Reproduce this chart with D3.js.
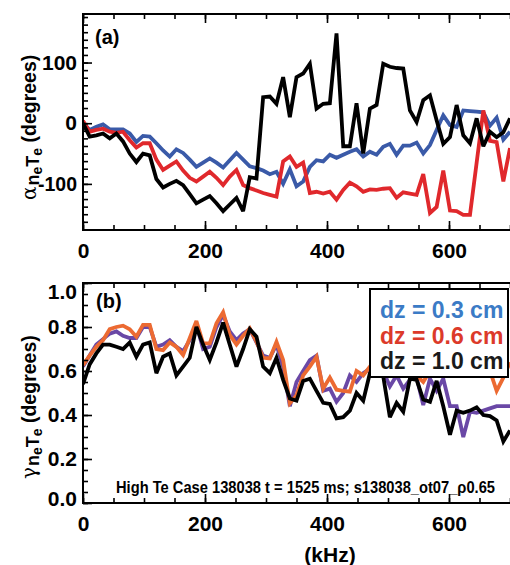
<!DOCTYPE html>
<html>
<head>
<meta charset="utf-8">
<script src="https://cdn.jsdelivr.net/npm/d3@7"></script>
<style>
body { margin: 0; background: #fff; }
svg { display: block; font-family: "Liberation Sans", Arial, sans-serif; }
</style>
</head>
<body>
<div id="chart"></div>
<script>
// frequency bins (kHz)
var freq = [0, 10.9, 21.9, 32.8, 43.8, 54.7, 65.6, 76.6, 87.5, 98.4,
	109.4, 120.3, 131.3, 142.2, 153.1, 164.1, 175, 185.9, 196.9, 207.8,
	218.8, 229.7, 240.6, 251.6, 262.5, 273.4, 284.4, 295.3, 306.3, 317.2,
	328.1, 339.1, 350, 360.9, 371.9, 382.8, 393.8, 404.7, 415.6, 426.6,
	437.5, 448.4, 459.4, 470.3, 481.3, 492.2, 503.1, 514.1, 525, 535.9,
	546.9, 557.8, 568.8, 579.7, 590.6, 601.6, 612.5, 623.4, 634.4, 645.3,
	656.3, 667.2, 678.1, 689.1, 700];

// (a) cross phase alpha (degrees)
var alphaDz03 = [0, -11, -6, -2, -10, -10, -10, -17, -31, -21,
	-22, -33, -45, -55, -43, -49, -60, -72, -65, -58,
	-65, -73, -61, -49, -60, -71, -74, -78, -84, -80,
	-100, -76, -104, -96, -72, -61, -63, -52, -57, -52,
	-47, -43, -55, -47, -52, -39, -34, -52, -37, -37,
	-32, -50, -36, -11, 13, -3, -6, 21, 20, 19,
	18, -4, 9, -27, -14];
var alphaDz06 = [4, -14, -11, -9, -14, -16, -14, -28, -40, -33,
	-33, -60, -77, -70, -63, -78, -90, -96, -88, -80,
	-90, -102, -88, -77, -102, -107, -111, -115, -118, -121,
	-63, -55, -72, -65, -115, -113, -116, -113, -126, -110,
	-98, -104, -113, -109, -110, -108, -107, -123, -114, -116,
	-118, -84, -148, -138, -78, -144, -145, -151, -151, -65,
	21, -29, -31, -96, -41];
var alphaDz10 = [0, -22, -20, -17, -25, -17, -30, -50, -64, -50,
	-53, -92, -106, -100, -95, -102, -117, -132, -126, -120,
	-132, -145, -134, -123, -145, -89, -91, 43, 44, 32,
	76, 10, 76, 82, 98, 24, 32, 33, 148, -38,
	-38, 33, -50, 24, 30, 98, 93, 91, 90, 21,
	2, 38, 46, 5, -34, -23, 30, -20, -33, 8,
	-38, -14, -23, -15, 8];

// (b) coherence gamma
var gammaDz03 = [0.62, 0.67, 0.72, 0.745, 0.77, 0.78, 0.76, 0.75, 0.75, 0.80,
	0.80, 0.71, 0.72, 0.74, 0.71, 0.69, 0.74, 0.81, 0.70, 0.71,
	0.80, 0.855, 0.78, 0.74, 0.77, 0.79, 0.73, 0.67, 0.66, 0.72,
	0.62, 0.44, 0.55, 0.60, 0.65, 0.67, 0.51, 0.52, 0.46, 0.50,
	0.58, 0.55, 0.59, 0.61, 0.62, 0.60, 0.53, 0.58, 0.52, 0.56,
	0.57, 0.445, 0.565, 0.51, 0.565, 0.44, 0.44, 0.30, 0.415, 0.41,
	0.42, 0.43, 0.44, 0.44, 0.44];
var gammaDz06 = [0.627, 0.67, 0.71, 0.74, 0.79, 0.80, 0.806, 0.79, 0.756, 0.81,
	0.81, 0.70, 0.695, 0.73, 0.71, 0.673, 0.75, 0.827, 0.726, 0.726,
	0.817, 0.867, 0.764, 0.72, 0.76, 0.794, 0.733, 0.66, 0.657, 0.733,
	0.65, 0.453, 0.49, 0.58, 0.62, 0.665, 0.52, 0.57, 0.515, 0.51,
	0.506, 0.60, 0.58, 0.62, 0.66, 0.62, 0.60, 0.64, 0.60, 0.62,
	0.58, 0.55, 0.60, 0.63, 0.60, 0.66, 0.62, 0.68, 0.64, 0.66,
	0.62, 0.60, 0.51, 0.57, 0.64];
var gammaDz10 = [0.54, 0.63, 0.68, 0.72, 0.72, 0.71, 0.70, 0.73, 0.665, 0.72,
	0.73, 0.59, 0.665, 0.68, 0.58, 0.62, 0.66, 0.80, 0.72, 0.65,
	0.73, 0.82, 0.72, 0.62, 0.70, 0.79, 0.756, 0.62, 0.59, 0.66,
	0.56, 0.475, 0.465, 0.555, 0.565, 0.51, 0.455, 0.45, 0.385, 0.39,
	0.42, 0.50, 0.465, 0.59, 0.62, 0.575, 0.39, 0.455, 0.415, 0.565,
	0.56, 0.47, 0.46, 0.555, 0.44, 0.31, 0.42, 0.41, 0.42, 0.435,
	0.40, 0.395, 0.375, 0.28, 0.33];

var legendLabels = ['dz = 0.3 cm', 'dz = 0.6 cm', 'dz = 1.0 cm'];
var xTicks = [0, 200, 400, 600];
var alphaTicks = [-100, 0, 100];
var gammaTicks = [0.0, 0.2, 0.4, 0.6, 0.8, 1.0];
var note = 'High Te Case 138038 t = 1525 ms; s138038_ot07_\u03c10.65';

var width = 510,
	height = 565,
	left = 83,
	right = 510;

var svg = d3.select('#chart').append('svg')
	.attr('width', width)
	.attr('height', height);

var x = d3.scaleLinear().domain([0, 700]).range([left, right]);
var yA = d3.scaleLinear().domain([-176, 180]).range([230, 14]);
var yB = d3.scaleLinear().domain([0, 1]).range([503, 283]);

// y axis titles with nested subscripts, read bottom to top
function yTitle(cx, yStart, sym) {
	var t = svg.append('text')
		.attr('transform', 'translate(' + cx + ',' + yStart + ') rotate(-90)')
		.attr('text-anchor', 'start')
		.style('font-weight', 'bold')
		.style('font-size', '20px');
	t.append('tspan').text(sym)
		.style('font-family', '"DejaVu Serif", serif')
		.style('font-weight', 'normal')
		.style('font-size', '20px');
	t.append('tspan').attr('dy', 3).attr('dx', 1).style('font-size', '18px').text('n');
	t.append('tspan').attr('dy', 3).style('font-size', '14px').text('e');
	t.append('tspan').attr('dy', -3).style('font-size', '18px').text('T');
	t.append('tspan').attr('dy', 3).style('font-size', '14px').text('e');
	t.append('tspan').attr('dy', -6).style('font-size', '19.5px').text(' (degrees)');
}
yTitle(36, 200, '\u03b1');
yTitle(36, 479, '\u03b3');

function panel(id, y, series, colors, majors, minors, fmt) {
	var top = y.range()[1],
		bottom = y.range()[0];
	var g = svg.append('g');

	g.append('clipPath').attr('id', 'clip' + id)
		.append('rect')
		.attr('x', left).attr('y', top)
		.attr('width', right - left).attr('height', bottom - top);

	var line = d3.line()
		.x(function (d, i) { return x(freq[i]); })
		.y(function (d) { return y(d); });

	var lines = g.append('g').attr('clip-path', 'url(#clip' + id + ')');
	series.forEach(function (s, k) {
		lines.append('path')
			.datum(s)
			.attr('d', line)
			.attr('fill', 'none')
			.attr('stroke', colors[k])
			.attr('stroke-width', 3.8)
			.attr('stroke-linejoin', 'miter')
			.attr('stroke-miterlimit', 3);
	});

	// ticks, all pointing inward
	var xMinor = d3.range(0, 701, 50);
	function noDomain(sel) { sel.select('.domain').remove(); }

	g.append('g').attr('transform', 'translate(0,' + bottom + ')')
		.call(d3.axisBottom(x).tickValues(xMinor).tickSize(-5).tickFormat(''))
		.call(noDomain);
	g.append('g').attr('transform', 'translate(0,' + top + ')')
		.call(d3.axisTop(x).tickValues(xMinor).tickSize(-5).tickFormat(''))
		.call(noDomain);
	g.append('g').attr('transform', 'translate(0,' + bottom + ')')
		.call(d3.axisBottom(x).tickValues(xTicks).tickSize(-9).tickPadding(13).tickFormat(d3.format('d')))
		.call(noDomain);
	g.append('g').attr('transform', 'translate(0,' + top + ')')
		.call(d3.axisTop(x).tickValues(xTicks).tickSize(-9).tickFormat(''))
		.call(noDomain);

	g.append('g').attr('transform', 'translate(' + left + ',0)')
		.call(d3.axisLeft(y).tickValues(minors).tickSize(-5).tickFormat(''))
		.call(noDomain);
	var yl = g.append('g').attr('transform', 'translate(' + left + ',0)')
		.call(d3.axisLeft(y).tickValues(majors).tickSize(-9).tickPadding(6).tickFormat(fmt))
		.call(noDomain);

	g.selectAll('.tick line').attr('stroke', '#000').attr('stroke-width', 1.6);
	g.selectAll('.tick text')
		.attr('fill', '#000')
		.style('font-size', '21px')
		.style('font-weight', 'bold')
		.style('font-family', '"Liberation Sans", Arial, sans-serif');

	g.append('rect')
		.attr('x', left).attr('y', top)
		.attr('width', right - left + 4).attr('height', bottom - top)
		.attr('fill', 'none')
		.attr('stroke', '#000')
		.attr('stroke-width', 2);

	return yl;
}

var ylA = panel('a', yA, [alphaDz03, alphaDz06, alphaDz10],
	['#3a5aa8', '#e0282c', '#000'],
	alphaTicks, d3.range(-175, 181, 12.5), function (d) { return d < 0 ? '-' + (-d) : String(d); });
// slightly narrower "-100" so it clears the title
ylA.selectAll('.tick text').attr('textLength', function (d) { return d < 0 ? 39 : null; })
	.attr('lengthAdjust', 'spacingAndGlyphs');

var ylB = panel('b', yB, [gammaDz03, gammaDz06, gammaDz10],
	['#6a48a6', '#ec6a32', '#000'],
	gammaTicks, d3.range(0, 1.001, 0.05), d3.format('.1f'));

// the end labels of (b) sit inside the frame, as in the original
ylB.selectAll('.tick text').attr('dy', function (d) {
	if (d === 1) return '0.75em';
	if (d === 0) return '0.1em';
	return '0.32em';
});

// panel letters
svg.append('text').attr('x', 95).attr('y', 44)
	.style('font-size', '20px').style('font-weight', 'bold').text('(a)');
svg.append('text').attr('x', 96).attr('y', 308)
	.style('font-size', '20px').style('font-weight', 'bold').text('(b)');

// x title
svg.append('text')
	.attr('x', 330).attr('y', 562)
	.attr('text-anchor', 'middle')
	.style('font-size', '21px').style('font-weight', 'bold')
	.text('(kHz)');

// annotation, condensed horizontally like the original
svg.append('text')
	.attr('transform', 'translate(116,493) scale(0.88,1)')
	.attr('textLength', 379 / 0.88)
	.attr('lengthAdjust', 'spacingAndGlyphs')
	.style('font-size', '16px').style('font-weight', 'bold')
	.text(note);

// legend
var legendColors = ['#3b7bc6', '#dc3a2a', '#1a1a1a'];
var lg = svg.append('g');
lg.append('rect')
	.attr('x', 370).attr('y', 289)
	.attr('width', 138).attr('height', 88)
	.attr('fill', '#fff')
	.attr('stroke', '#000')
	.attr('stroke-width', 2);
lg.selectAll('text.leg')
	.data(legendLabels)
	.enter().append('text')
	.attr('class', 'leg')
	.attr('x', 380)
	.attr('y', function (d, i) { return 318 + i * 25.5; })
	.attr('fill', function (d, i) { return legendColors[i]; })
	.style('font-size', '23px').style('font-weight', 'bold')
	.text(function (d) { return d; });
</script>
</body>
</html>
